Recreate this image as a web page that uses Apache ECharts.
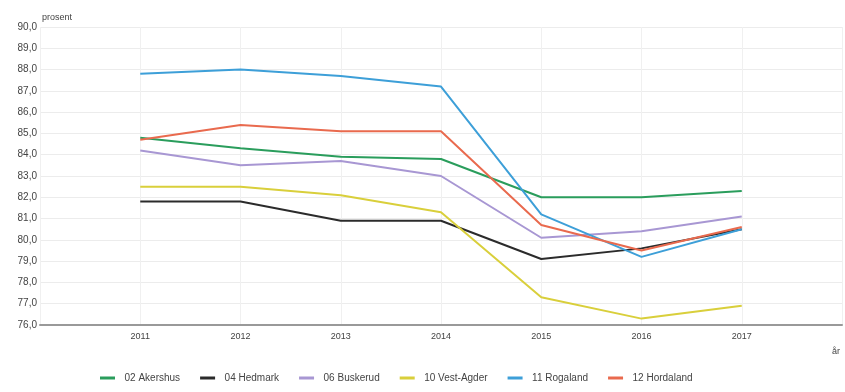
<!DOCTYPE html>
<html>
<head>
<meta charset="utf-8">
<script src="https://cdn.jsdelivr.net/npm/echarts@6/dist/echarts.min.js"></script>
<style>html,body{margin:0;padding:0;background:#fff}#c{width:845px;height:392px}</style>
</head>
<body>
<div id="c"></div>
<script>
const years = [2011, 2012, 2013, 2014, 2015, 2016, 2017];
const seriesNames = ['02 Akershus', '04 Hedmark', '06 Buskerud', '10 Vest-Agder', '11 Rogaland', '12 Hordaland'];
const akershus   = [84.8, 84.3, 83.9, 83.8, 82.0, 82.0, 82.3];
const hedmark    = [81.8, 81.8, 80.9, 80.9, 79.1, 79.6, 80.5];
const buskerud   = [84.2, 83.5, 83.7, 83.0, 80.1, 80.4, 81.1];
const vestAgder  = [82.5, 82.5, 82.1, 81.3, 77.3, 76.3, 76.9];
const rogaland   = [87.8, 88.0, 87.7, 87.2, 81.2, 79.2, 80.5];
const hordaland  = [84.7, 85.4, 85.1, 85.1, 80.7, 79.5, 80.6];
const colors = ['#2a9d5c', '#2b2b2b', '#a897d3', '#d9cf3b', '#3d9fd8', '#e96a4e'];
const allValues = [akershus, hedmark, buskerud, vestAgder, rogaland, hordaland];

const chart = echarts.init(document.getElementById('c'), null, {renderer: 'canvas'});
const series = seriesNames.map((n, i) => ({
  name: n,
  type: 'line',
  data: years.map((y, j) => [y, allValues[i][j]]),
  symbol: 'none',
  lineStyle: {width: 2, color: colors[i]},
  itemStyle: {color: colors[i]}
}));
chart.setOption({
  animation: false,
  textStyle: {fontFamily: 'Liberation Sans, Arial, sans-serif'},
  grid: {left: 40, right: 0, top: 27, bottom: 67, containLabel: false},
  legend: {
    data: seriesNames,
    left: 95, bottom: 4,
    icon: 'path://M0,0 L10,0 L10,2 L0,2 Z',
    itemWidth: 24, itemHeight: 3, itemGap: 20,
    textStyle: {fontSize: 10, color: '#444'}
  },
  xAxis: {
    type: 'value', min: 2010, max: 2018, interval: 1,
    name: 'år', nameLocation: 'end', nameGap: 0,
    nameTextStyle: {fontSize: 9, color: '#444', align: 'right', verticalAlign: 'top', padding: [22, 2, 0, 0]},
    axisLine: {show: true, lineStyle: {color: '#999', width: 2}},
    axisTick: {show: false},
    axisLabel: {fontSize: 9, color: '#444', margin: 7,
      formatter: v => (v >= 2011 && v <= 2017) ? String(v) : ''},
    splitLine: {show: true, lineStyle: {color: '#f0f0f0', width: 1}}
  },
  yAxis: {
    type: 'value', min: 76, max: 90, interval: 1,
    name: 'prosent', nameLocation: 'end', nameGap: 5,
    nameTextStyle: {fontSize: 9, color: '#444', align: 'left', padding: [0, 0, 0, 2]},
    axisLine: {show: false}, axisTick: {show: false},
    axisLabel: {fontSize: 10, color: '#444', margin: 3,
      formatter: v => v.toFixed(1).replace('.', ',')},
    splitLine: {show: true, lineStyle: {color: '#ececec', width: 1}}
  },
  series: series
});
</script>
</body>
</html>
